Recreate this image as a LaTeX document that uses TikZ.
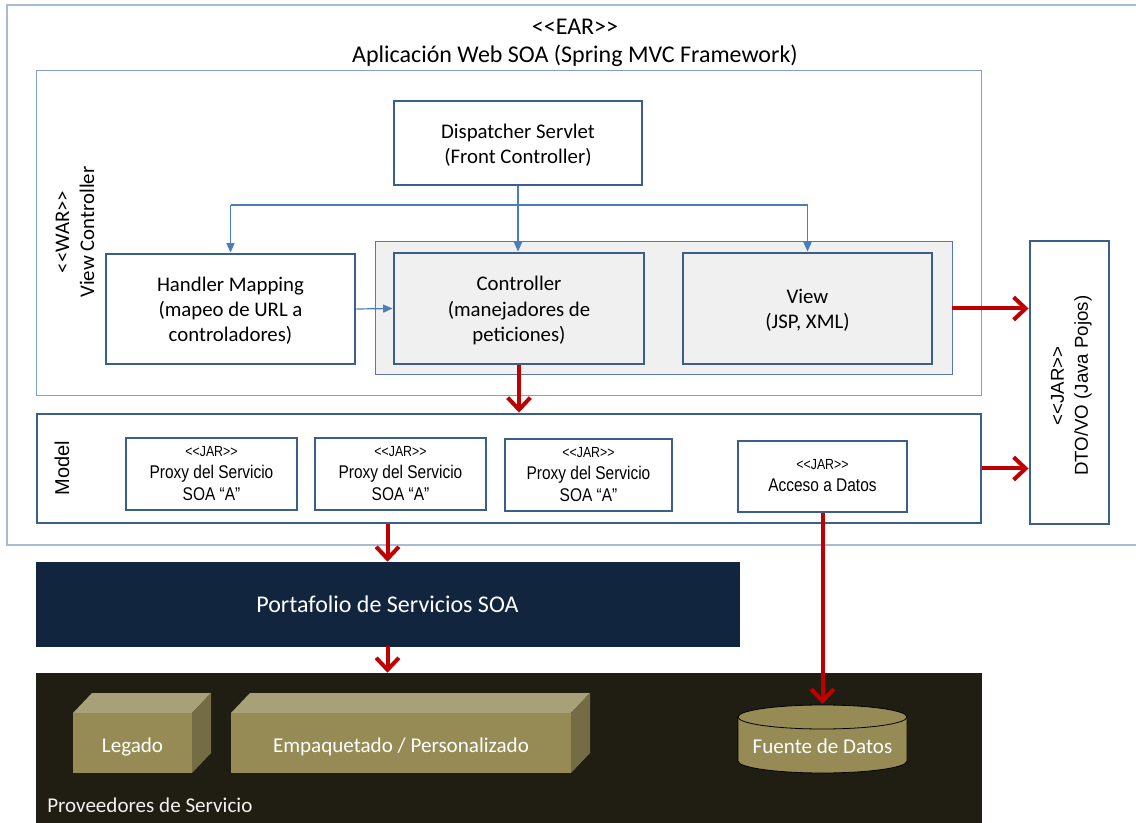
\documentclass[tikz,border=0pt]{standalone}
\usepackage{fontspec}
\setmainfont{Carlito}
\newfontfamily\arial{Liberation Sans}
\newfontfamily\arialn[FakeStretch=0.84]{Liberation Sans}
\usetikzlibrary{arrows.meta,fit}
\definecolor{outerline}{HTML}{A9BBD4}
\definecolor{warline}{HTML}{7F9FCB}
\definecolor{thick}{HTML}{3B5E8C}
\definecolor{abl}{HTML}{4A7EBB}
\definecolor{panel}{HTML}{F0F0F0}
\definecolor{panelline}{HTML}{5A78A6}
\definecolor{rred}{HTML}{C00000}
\definecolor{navy}{HTML}{12253F}
\definecolor{dark}{HTML}{201D12}
\definecolor{cfront}{HTML}{968B55}
\definecolor{ctop}{HTML}{A8A079}
\definecolor{cside}{HTML}{746C45}
\newcommand\ltlt{<\kern0pt<}
\newcommand\gtgt{>\kern0pt>}
\newcommand\jarsmallfont{\arialn\fontsize{11}{12}\selectfont}
\begin{document}
\begin{tikzpicture}[x=0.75pt,y=-0.75pt,
  boxtxt/.style={font=\fontsize{15.6}{18.8}\selectfont, align=center, inner sep=0pt, yshift=-1.5pt},
  tbox/.style={draw=thick, line width=2.2pt, fill=white, inner sep=0pt},
  proxytxt/.style={align=center, inner sep=0pt, font=\arialn\fontsize{13.8}{16.5}\selectfont},
  bluearrow/.style={draw=abl, line width=0.9pt, -{Triangle[length=7pt,width=6pt]}},
  blueline/.style={draw=abl, line width=0.9pt},
  redarrow/.style={draw=rred, line width=3pt, -{Straight Barb[length=9pt,width=17pt]}},
  cubetxt/.style={text=white, inner sep=0pt, font=\fontsize{15.8}{18}\selectfont}
]
\useasboundingbox (0,0) rectangle (1136,823);
\clip (0,0) rectangle (1136,823);
\fill[white] (0,0) rectangle (1136,823);
% outer EAR box
\node[draw=outerline, line width=0.8pt, inner sep=0pt, fit={(7,5) (1150,545)}] (ear) {};
\node[font=\fontsize{18}{21}\selectfont] (eart) at (575,27) {\ltlt EAR\gtgt};
\node[font=\fontsize{18}{21}\selectfont] (title) at (575,56) {Aplicación Web SOA (Spring MVC Framework)};
% WAR box
\node[draw=warline, line width=0.7pt, inner sep=0pt, fit={(36,70) (981,395)}] (war) {};
\node[rotate=90, boxtxt] (wart) at (73,232) {\ltlt WAR\gtgt\\View Controller};
% dispatcher
\node[tbox, fit={(394,101) (642,185)}] (disp) {};
\node[boxtxt] (dispt) at (disp.center) {Dispatcher Servlet\\(Front Controller)};
% panel
\node[draw=panelline, line width=0.6pt, fill=panel, inner sep=0pt, fit={(375,241) (952,374)}] (panel) {};
\node[tbox, fit={(106,254) (355,364)}] (hm) {};
\node[boxtxt] (hmt) at (hm.center) {Handler Mapping\\(mapeo de URL a\\controladores)};
\node[tbox, fill=panel, fit={(394,253) (644,364)}] (ctrl) {};
\node[boxtxt] (ctrlt) at (ctrl.center) {Controller\\(manejadores de\\peticiones)};
\node[tbox, fill=panel, fit={(683,253) (932,364)}] (view) {};
\node[boxtxt] (viewt) at (view.center) {View\\(JSP, XML)};
% JAR DTO
\node[tbox, fit={(1030,241) (1109,524)}] (jar) {};
\node[rotate=90, align=center, inner sep=0pt, font=\arial\fontsize{14}{18}\selectfont] (jart) at ([xshift=1.5pt,yshift=-2.5pt]jar.center) {\ltlt JAR\gtgt\\DTO/VO (Java Pojos)};
% Model
\node[tbox, fit={(37,414) (981,523)}] (model) {};
\node[rotate=90, inner sep=0pt, font=\arial\fontsize{15}{17}\selectfont] (modelt) at (62,468) {Model};
\node[tbox, fit={(126,438) (297,510)}] (p1) {};
\node[tbox, fit={(315,438) (486,510)}] (p2) {};
\node[tbox, fit={(505,439) (672,511)}] (p3) {};
\node[tbox, fit={(738,441) (907,512)}] (acc) {};
\node[proxytxt] (p1t) at ([yshift=0.5pt]p1.center) {{\jarsmallfont\ltlt JAR\gtgt}\\Proxy del Servicio\\SOA “A”};
\node[proxytxt] (p2t) at ([yshift=0.5pt]p2.center) {{\jarsmallfont\ltlt JAR\gtgt}\\Proxy del Servicio\\SOA “A”};
\node[proxytxt] (p3t) at ([yshift=0.5pt]p3.center) {{\jarsmallfont\ltlt JAR\gtgt}\\Proxy del Servicio\\SOA “A”};
\node[proxytxt] (acct) at ([yshift=0.5pt]acc.center) {{\jarsmallfont\ltlt JAR\gtgt}\\Acceso a Datos};
% Portafolio
\node[fill=navy, draw=navy, inner sep=0pt, fit={(36,562) (739,646)}] (portf) {};
\node[text=white, inner sep=0pt, font=\fontsize{18}{21}\selectfont] (portft) at (portf.center) {Portafolio de Servicios SOA};
% Proveedores
\node[fill=dark, draw=dark, inner sep=0pt, fit={(36,673) (981,840)}] (prov) {};
\node[anchor=west, inner sep=0pt, text=white!94!dark, font=\fontsize{15.8}{18}\selectfont] (provt) at (47,805) {Proveedores de Servicio};
% cubes
\fill[ctop] (73,713) -- (92,693) -- (211,693) -- (192,713) -- cycle;
\fill[cside] (192,713) -- (211,693) -- (211,753) -- (192,773) -- cycle;
\node[fill=cfront, inner sep=0pt, fit={(73,713) (192,773)}] (legado) {};
\node[cubetxt] (legadot) at ([yshift=-3pt]legado.center) {Legado};
\fill[ctop] (231,713) -- (250,693) -- (590,693) -- (571,713) -- cycle;
\fill[cside] (571,713) -- (590,693) -- (590,753) -- (571,773) -- cycle;
\node[fill=cfront, inner sep=0pt, fit={(231,713) (571,773)}] (emp) {};
\node[cubetxt] (empt) at ([yshift=-3pt]emp.center) {Empaquetado / Personalizado};
% cylinder
\filldraw[fill=cfront, draw=black, line width=0.6pt] (738,717) -- (738,761) arc[start angle=180, end angle=360, x radius=63.375pt, y radius=9pt] -- (907,717) arc[start angle=0, end angle=180, x radius=63.375pt, y radius=9pt] -- cycle;
\draw[black, line width=0.6pt] (738,717) arc[start angle=180, end angle=360, x radius=63.375pt, y radius=9pt];
\coordinate (dbtop) at (822.5,704);
\node[cubetxt] (fuente) at (822.5,746) {Fuente de Datos};
% blue connectors
\coordinate (bus) at (518,205);
\draw[bluearrow] (disp.south) -- (disp.south |- ctrl.north);
\draw[blueline] (hm.north |- bus) -- (view.north |- bus);
\draw[bluearrow] (hm.north |- bus) -- (hm.north);
\draw[bluearrow] (view.north |- bus) -- (view.north);
\draw[bluearrow] (hm.east) -- (ctrl.west);
% red connectors
\draw[redarrow] (ctrl.south) -- (ctrl.south |- model.north);
\draw[redarrow] (panel.east |- view.east) -- (view.east -| jar.west);
\draw[redarrow] (model.east) -- (model.east -| jar.west);
\draw[redarrow] (portf.north |- model.south) -- (portf.north);
\draw[redarrow] (portf.south) -- (portf.south |- prov.north);
\draw[redarrow] (acc.south) -- (dbtop);
\end{tikzpicture}
\end{document}
